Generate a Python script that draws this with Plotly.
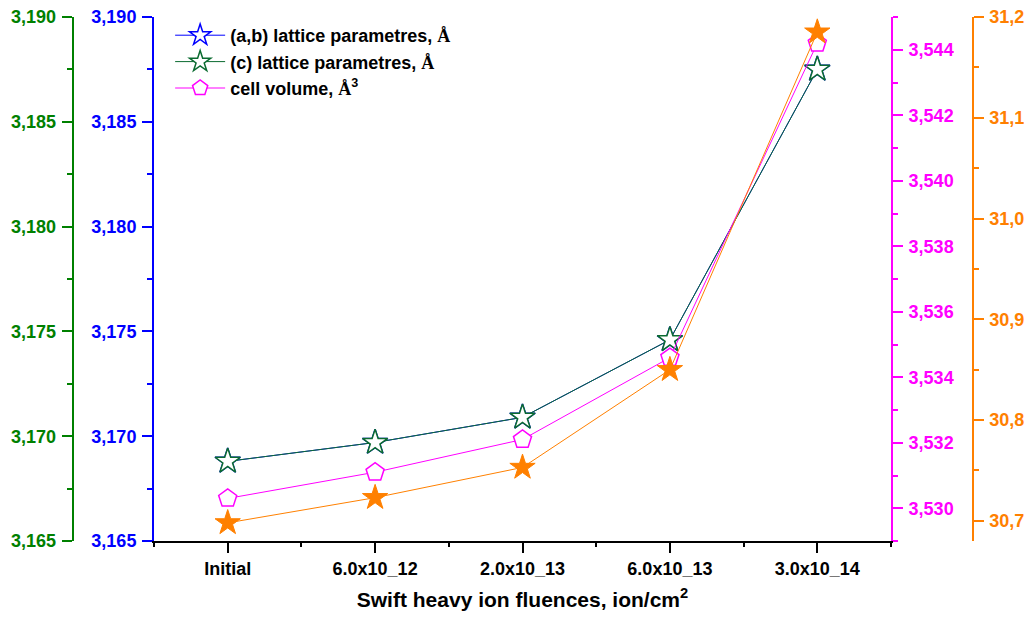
import plotly.graph_objects as go

categories = ["Initial", "6.0x10_12", "2.0x10_13", "6.0x10_13", "3.0x10_14"]
ab_lattice = [3.1688, 3.1697, 3.1709, 3.1746, 3.1875]
c_lattice = [3.1688, 3.1697, 3.1709, 3.1746, 3.1875]
cell_volume = [3.5303, 3.5311, 3.5321, 3.5346, 3.5442]
orange_series = [30.698, 30.723, 30.753, 30.850, 31.185]

BLUE = "#0000FF"
GREEN = "#008000"
MAGENTA = "#FF00FF"
ORANGE = "#FF8000"
FONT = "Liberation Sans"

x = list(range(len(categories)))
A = "<span style=\"font-family:'Liberation Serif'\">Å</span>"

fig = go.Figure()
fig.add_trace(go.Scatter(
    x=x, y=ab_lattice, name="(a,b) lattice parametres, " + A, yaxis="y",
    mode="lines+markers", line=dict(color=BLUE, width=1),
    marker=dict(symbol="star", size=19, color="white", line=dict(color=BLUE, width=1.5))))
fig.add_trace(go.Scatter(
    x=x, y=c_lattice, name="(c) lattice parametres, " + A, yaxis="y2",
    mode="lines+markers", line=dict(color="#0b6b30", width=1),
    marker=dict(symbol="star", size=19, color="white", line=dict(color="#0b6b30", width=1.5))))
fig.add_trace(go.Scatter(
    x=x, y=cell_volume, name="cell volume, " + A + "<sup>3</sup>", yaxis="y3",
    mode="lines+markers", line=dict(color=MAGENTA, width=1),
    marker=dict(symbol="pentagon", size=19, color="white", line=dict(color=MAGENTA, width=1.5))))
fig.add_trace(go.Scatter(
    x=x, y=orange_series, name="orange", yaxis="y4", showlegend=False,
    mode="lines+markers", line=dict(color=ORANGE, width=1),
    marker=dict(symbol="star", size=19, color=ORANGE, line=dict(color=ORANGE, width=1))))

tickfont = dict(family=FONT, size=18, weight="bold")

def yax(color, rng, tick0, dtick, mdtick, fmt, **kw):
    d = dict(range=rng, tick0=tick0, dtick=dtick, tickformat=fmt,
             color=color, linecolor=color, linewidth=2, showline=True,
             ticks="outside", ticklen=10, tickwidth=2, tickcolor=color,
             tickfont=dict(tickfont, color=color), automargin=False,
             ticklabelstandoff=2, ticklabeloverflow="allow",
             minor=dict(dtick=mdtick, tick0=tick0, ticks="outside", ticklen=5,
                        tickwidth=2, tickcolor=color),
             showgrid=False, zeroline=False)
    d.update(kw)
    return d

fig.update_layout(
    width=1024, height=610,
    margin=dict(l=2, r=2, t=9, b=77, autoexpand=False),
    paper_bgcolor="white", plot_bgcolor="white",
    separators=",.",
    font=dict(family=FONT, size=18, weight="bold", color="black"),
    xaxis=dict(
        domain=[0.14118, 0.86373], range=[-0.5, 4.5], automargin=False,
        tickmode="array", tickvals=x, ticktext=categories,
        ticks="outside", ticklen=10, tickwidth=2, tickcolor="black",
        showline=True, linecolor="black", linewidth=2,
        tickfont=dict(tickfont, color="black"),
        minor=dict(tickmode="array", tickvals=[i + 0.5 for i in range(-1, 5)],
                   ticks="outside", ticklen=4, tickwidth=2, tickcolor="black"),
        showgrid=False, zeroline=False,
        title=dict(text="Swift heavy ion fluences, ion/cm<sup>2</sup>",
                   font=dict(family=FONT, size=21, weight="bold", color="black"),
                   standoff=15),
    ),
    yaxis=yax(BLUE, [3.165, 3.1900001], 3.165, 0.005, 0.0025, ".3f", anchor="x", side="left"),
    yaxis2=yax(GREEN, [3.165, 3.1900001], 3.165, 0.005, 0.0025, ".3f",
               overlaying="y", anchor="free", position=0.06147, side="left"),
    yaxis3=yax(MAGENTA, [3.529, 3.5450001], 3.530, 0.002, 0.001, ".3f",
               overlaying="y", anchor="x", side="right"),
    yaxis4=yax(ORANGE, [30.68, 31.20001], 30.7, 0.1, 0.05, ".1f",
               overlaying="y", anchor="free", position=0.94382, side="right"),
    legend=dict(x=0.157, y=1.0, xanchor="left", yanchor="top", itemwidth=50,
                bgcolor="rgba(0,0,0,0)", font=dict(family=FONT, size=18, weight="bold"),
                tracegroupgap=0),
)

fig.write_html("out.html")
